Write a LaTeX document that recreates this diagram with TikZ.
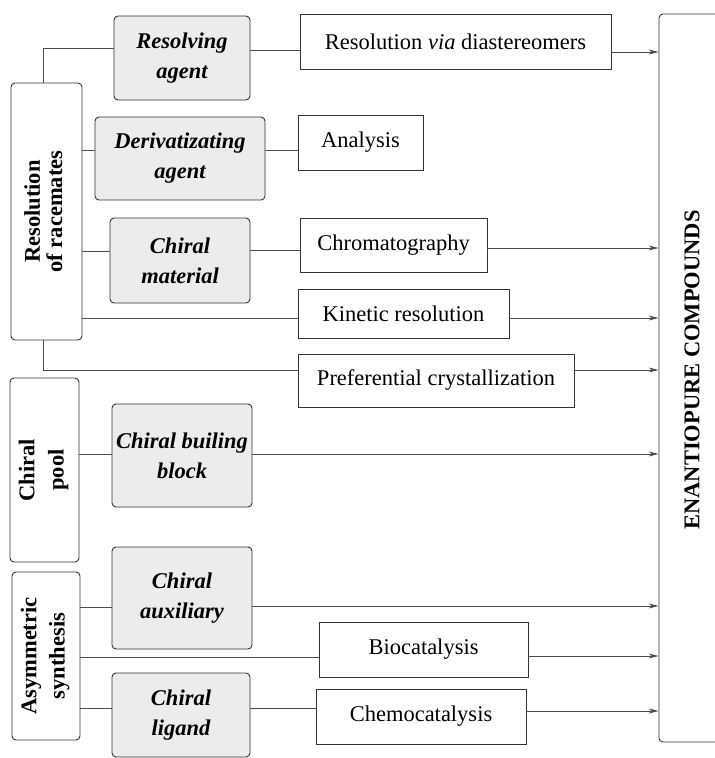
\documentclass[tikz,border=0pt]{standalone}
\usepackage{fontspec}
\setmainfont{Liberation Serif}
\usetikzlibrary{arrows.meta}

\newcommand\bigfont{\fontsize{22.5}{30}\selectfont}

\tikzset{
  box/.style={draw=black!80, line width=0.9pt, inner sep=0pt, align=center, font=\bigfont},
  gbox/.style={box, fill=gray!15, rounded corners=4pt, font=\bigfont\bfseries\itshape},
  side/.style={box, rounded corners=4pt, font=\bfseries\fontsize{22.5}{22}\selectfont},
  link/.style={draw=black!70, line width=0.8pt},
  arr/.style={link, -{Stealth[length=10pt,width=5pt]}},
}

\begin{document}
\begin{tikzpicture}[x=1pt, y=-1pt]
    \useasboundingbox (0,0) rectangle (715,758); % same size as the picture

    % left column
    \node[side, minimum width=71, minimum height=257] (ror) at (46.5,211.5)
        {\rotatebox{90}{\begin{tabular}{@{}c@{}}Resolution\\of racemates\end{tabular}}};
    \node[side, minimum width=69, minimum height=184] (pool) at (44.5,470)
        {\rotatebox{90}{\begin{tabular}{@{}c@{}}Chiral\\[7pt]pool\end{tabular}}};
    \node[side, minimum width=68, minimum height=168] (asym) at (46,656)
        {\rotatebox{90}{\begin{tabular}{@{}c@{}}Asymmetric\\[6pt]synthesis\end{tabular}}};

    % agents
    \node[gbox, minimum width=136, minimum height=84] (ra) at (182,58) {Resolving\\agent};
    \node[gbox, minimum width=170, minimum height=83] (da) at (180,158.5) {Derivatizating\\agent};
    \node[gbox, minimum width=140, minimum height=85] (cm) at (180,260.5) {Chiral\\material};
    \node[gbox, minimum width=140, minimum height=103] (cbb) at (182,455.5) {Chiral builing\\block};
    \node[gbox, minimum width=140, minimum height=102] (caux) at (182,598) {Chiral\\auxiliary};
    \node[gbox, minimum width=138, minimum height=84] (clig) at (181,715) {Chiral\\ligand};

    % methods
    \node[box, minimum width=311, minimum height=55] (via) at (455.5,41.5) {Resolution \textit{via} diastereomers};
    \node[box, minimum width=125, minimum height=55] (anal) at (360.5,142.5) {Analysis};
    \node[box, minimum width=187, minimum height=54] (chrom) at (393.5,245) {Chromatography};
    \node[box, minimum width=211, minimum height=49] (kin) at (403.5,313.5) {Kinetic resolution};
    \node[box, minimum width=276, minimum height=53] (pref) at (436,380.5) {Preferential crystallization};
    \node[box, minimum width=209, minimum height=55] (bio) at (423.5,649.5) {Biocatalysis};
    \node[box, minimum width=210, minimum height=55] (chemo) at (421,716.5) {Chemocatalysis};

    % target, its right side runs off the page
    \node[box, rounded corners=4pt, font=\bigfont\bfseries, minimum width=66, minimum height=728] (enant) at (692,378)
        {\rotatebox{90}{\hspace*{16pt}ENANTIOPURE COMPOUNDS}};

    % resolution of racemates
    \draw[link] (ror.north -| 43,0) |- (ra.west |- 0,48);
    \draw[link] (ra.east |- 0,50) -- (via.west |- 0,50);
    \draw[arr] (via.east |- 0,52) -- (enant.west |- 0,52);
    \draw[link] (ror.east |- 0,150) -- (da.west |- 0,150);
    \draw[link] (da.east |- 0,150) -- (anal.west |- 0,150);
    \draw[link] (ror.east |- 0,251) -- (cm.west |- 0,251);
    \draw[link] (cm.east |- 0,250) -- (chrom.west |- 0,250);
    \draw[arr] (chrom.east |- 0,248) -- (enant.west |- 0,248);
    \draw[link] (ror.east |- 0,318) -- (kin.west |- 0,318);
    \draw[arr] (kin.east |- 0,318) -- (enant.west |- 0,318);
    \draw[link] (ror.south -| 43,0) |- (pref.west |- 0,370);
    \draw[arr] (pref.east |- 0,370) -- (enant.west |- 0,370);

    % chiral pool
    \draw[link] (pool.east |- 0,454) -- (cbb.west |- 0,454);
    \draw[arr] (cbb.east |- 0,454) -- (enant.west |- 0,454);

    % asymmetric synthesis
    \draw[link] (asym.east |- 0,607) -- (caux.west |- 0,607);
    \draw[arr] (caux.east |- 0,606) -- (enant.west |- 0,606);
    \draw[link] (asym.east |- 0,657) -- (bio.west |- 0,657);
    \draw[arr] (bio.east |- 0,656) -- (enant.west |- 0,656);
    \draw[link] (asym.east |- 0,708) -- (clig.west |- 0,708);
    \draw[link] (clig.east |- 0,708) -- (chemo.west |- 0,708);
    \draw[arr] (chemo.east |- 0,711) -- (enant.west |- 0,711);
\end{tikzpicture}
\end{document}
